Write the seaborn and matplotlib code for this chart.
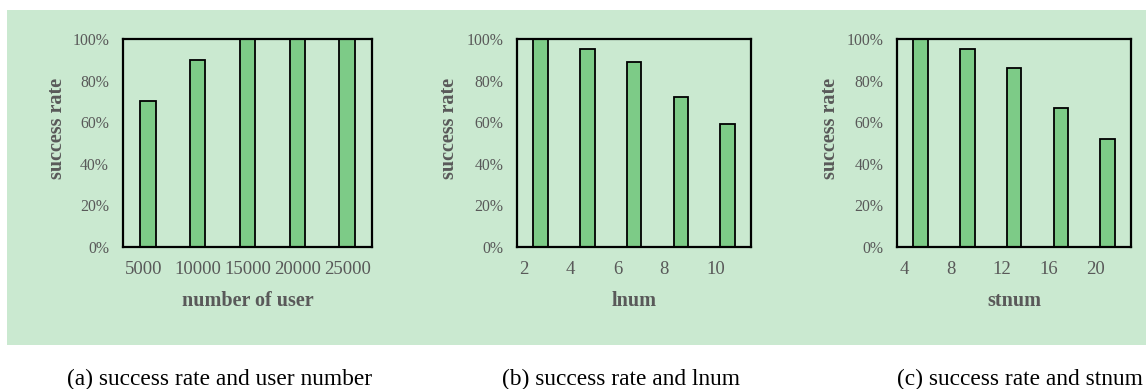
import matplotlib
matplotlib.use("Agg")
import matplotlib.pyplot as plt
import seaborn as sns
import numpy as np
from matplotlib.ticker import PercentFormatter
from matplotlib.patches import Rectangle
import matplotlib.transforms as mtransforms

# ---- data ----
users = ["5000", "10000", "15000", "20000", "25000"]
users_rate = [0.70, 0.90, 1.00, 1.00, 1.00]
lnum = ["2", "4", "6", "8", "10"]
lnum_rate = [1.00, 0.95, 0.89, 0.72, 0.59]
stnum = ["4", "8", "12", "16", "20"]
stnum_rate = [1.00, 0.95, 0.86, 0.67, 0.52]
xlabels = ["number of user", "lnum", "stnum"]
captions = ["(a) success rate and user number", "(b) success rate and lnum", "(c) success rate and stnum"]

sns.set_style("white")
plt.rcParams["font.family"] = ["Liberation Serif", "DejaVu Serif"]

W, H = 1146, 389
fig = plt.figure(figsize=(W / 100, H / 100), dpi=100)
fig.patch.set_facecolor("white")

bg = "#CAE9D0"
fig.patches.append(Rectangle((7 / W, 1 - 345 / H), 1 - 7 / W, 335 / H,
                             transform=fig.transFigure, facecolor=bg,
                             edgecolor="none", zorder=-10))

gray = "#595959"
bar_color = "#7DCB87"

panels = [
    (users, users_rate, 123, 372, 56.7),
    (lnum, lnum_rate, 517.3, 751, 449),
    (stnum, stnum_rate, 897.3, 1131, 829.7),
]
cap_x = [67, 502, 897]

for i, (cats, vals, x0, x1, ylab_x) in enumerate(panels):
    ax = fig.add_axes([x0 / W, 1 - 247 / H, (x1 - x0) / W, 208 / H])
    ax.set_facecolor(bg)
    sns.barplot(x=cats, y=vals, ax=ax, color=bar_color, width=0.31,
                edgecolor="black", linewidth=1.3, saturation=1, order=cats,
                zorder=3)
    ax.set_xlim(-0.5, 4.5)
    ax.set_ylim(0, 1)
    ax.yaxis.set_major_formatter(PercentFormatter(1.0, decimals=0))
    ax.set_yticks(np.arange(0, 1.01, 0.2))
    ax.tick_params(axis="y", length=0, pad=10, labelsize=11.3, labelcolor=gray)
    pos = np.arange(len(cats)) - 0.5
    ax.set_xticks(pos)
    ax.set_xticklabels(cats)
    ax.tick_params(axis="x", length=0, pad=10, labelsize=13.5, labelcolor=gray)
    off = mtransforms.ScaledTranslation(2 / 100, 0, fig.dpi_scale_trans)
    for lab in ax.get_xticklabels():
        lab.set_ha("left")
        lab.set_transform(lab.get_transform() + off)
    for s in ax.spines.values():
        s.set_visible(True)
        s.set_color("black")
        s.set_linewidth(1.6)
        s.set_zorder(5)
    ax.grid(False)
    ax.set_xlabel("")
    ax.set_ylabel("")
    fig.text((x0 + x1) / 2 / W, 1 - 301.5 / H, xlabels[i], ha="center", va="center",
             fontsize=14.5, fontweight="bold", color=gray)
    fig.text(ylab_x / W, 1 - 128 / H, "success rate", ha="center", va="center",
             rotation=90, fontsize=14.5, fontweight="bold", color=gray)
    fig.text(cap_x[i] / W, 1 - 379 / H, captions[i], ha="left", va="center",
             fontsize=16.8, color="black")

fig.savefig("out.png", dpi=100, facecolor="white")
